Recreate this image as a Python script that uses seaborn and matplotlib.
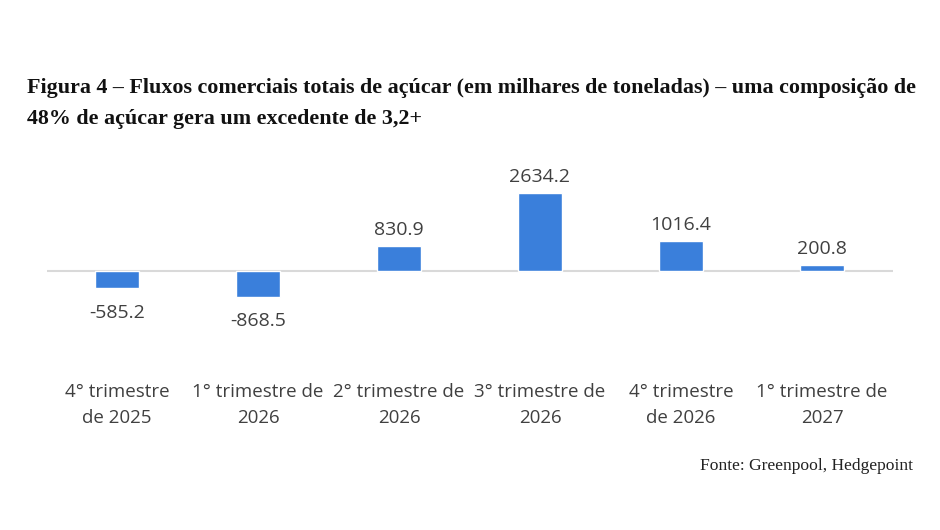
import pandas as pd
import matplotlib.pyplot as plt
import seaborn as sns

# Dados do gráfico
trimestres = ['4° trimestre\nde 2025', '1° trimestre de\n2026', '2° trimestre de\n2026',
              '3° trimestre de\n2026', '4° trimestre\nde 2026', '1° trimestre de\n2027']
fluxos = [-585.2, -868.5, 830.9, 2634.2, 1016.4, 200.8]
rotulos = ['-585.2', '-868.5', '830.9', '2634.2', '1016.4', '200.8']

data = pd.DataFrame({'trimestre': trimestres, 'fluxo': fluxos})

sns.set_style('white')
plt.rcParams['font.family'] = ['Open Sans', 'DejaVu Sans']

fig = plt.figure(figsize=(9.4, 5.3), dpi=100)
ax = fig.add_axes([46.5 / 940, 1 - 350 / 530, 846 / 940, 185 / 530])

sns.barplot(data=data, x='trimestre', y='fluxo', color='#3a7fdb', width=0.31,
            saturation=1, ax=ax)

ax.set_ylim(-2669, 3581)
ax.set_xlim(-0.5, 5.5)
ax.axhline(0, color='#d9d9d9', lw=1.5, zorder=0)

# Rótulos dos valores
for i, (v, r) in enumerate(zip(fluxos, rotulos)):
    if v >= 0:
        ax.annotate(r, (i, v), xytext=(0, 5), textcoords='offset points',
                    ha='center', va='bottom', fontsize=14, color='#404040')
    else:
        ax.annotate(r, (i, v), xytext=(0, -11), textcoords='offset points',
                    ha='center', va='top', fontsize=14, color='#404040')

ax.set_xlabel('')
ax.set_ylabel('')
ax.set_yticks([])
ax.tick_params(axis='x', length=0, pad=24, labelsize=13.5, labelcolor='#404040')
for lab in ax.get_xticklabels():
    lab.set_linespacing(1.55)
for s in ax.spines.values():
    s.set_visible(False)

fig.text(27 / 940, 1 - 88 / 530,
         'Figura 4 – Fluxos comerciais totais de açúcar (em milhares de toneladas) – uma composição de',
         fontsize=15.8, fontweight='bold', family='Liberation Serif', va='center', color='#111111')
fig.text(27 / 940, 1 - 119 / 530, '48% de açúcar gera um excedente de 3,2+',
         fontsize=15.8, fontweight='bold', family='Liberation Serif', va='center', color='#111111')
fig.text(913 / 940, 1 - 466 / 530, 'Fonte: Greenpool, Hedgepoint',
         fontsize=12.6, family='Liberation Serif', ha='right', va='center', color='#222222')

fig.savefig('out.png', dpi=100, facecolor='white')
